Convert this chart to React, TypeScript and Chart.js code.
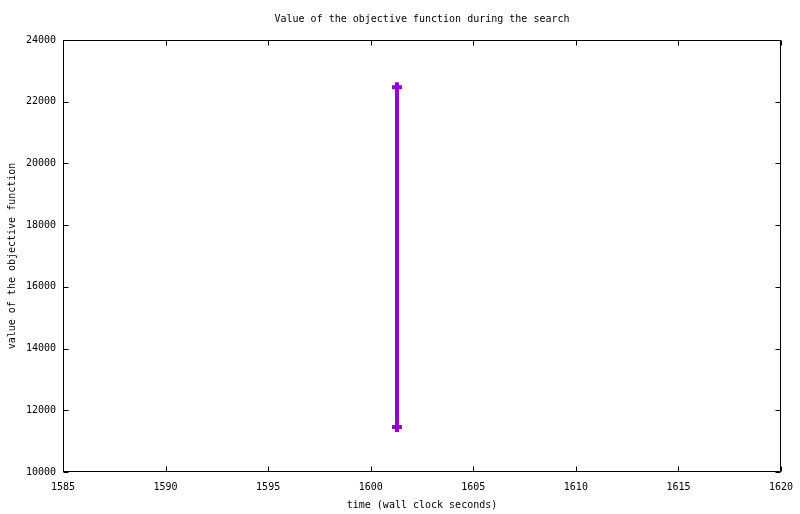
import React, { useEffect, useRef } from "react";
import { Chart, registerables } from "chart.js";

Chart.register(...registerables);

const times: number[] = [1601.28, 1601.28];
const values: number[] = [22470, 11460];
const xTicks: number[] = [1585, 1590, 1595, 1600, 1605, 1610, 1615, 1620];
const yTicks: number[] = [10000, 12000, 14000, 16000, 18000, 20000, 22000, 24000];

const titleText = "Value of the objective function during the search";
const xTitle = "time (wall clock seconds)";
const yTitle = "value of the objective function";

const FONT = "'DejaVu Sans Mono', 'Liberation Mono', monospace";

const framePlugin = {
  id: "gnuFrame",
  afterDatasetsDraw(chart: any) {
    const { ctx, chartArea } = chart;
    const { left, right, top, bottom } = chartArea;
    const xs = chart.scales.x;
    const ys = chart.scales.y;
    const L = 5;
    ctx.save();
    ctx.strokeStyle = "#000";
    ctx.lineWidth = 1;
    ctx.beginPath();
    const l = Math.round(left) + 0.5;
    const r = Math.round(right) - 0.5;
    const t = Math.round(top) + 0.5;
    const b = Math.round(bottom) - 0.5;
    ctx.rect(l, t, r - l, b - t);
    for (const v of xTicks) {
      const px = Math.round(xs.getPixelForValue(v)) + 0.5;
      ctx.moveTo(px, b);
      ctx.lineTo(px, b - L);
      ctx.moveTo(px, t);
      ctx.lineTo(px, t + L);
    }
    for (const v of yTicks) {
      const py = Math.round(ys.getPixelForValue(v)) + 0.5;
      ctx.moveTo(l, py);
      ctx.lineTo(l + L, py);
      ctx.moveTo(r, py);
      ctx.lineTo(r - L, py);
    }
    ctx.stroke();
    // chart title, centred over the plot area as gnuplot does
    ctx.fillStyle = "#000";
    ctx.font = "10px " + FONT;
    ctx.textAlign = "center";
    ctx.textBaseline = "middle";
    ctx.fillText(titleText, (left + right) / 2, 19);
    ctx.restore();
  },
};

export default function App() {
  const ref = useRef<HTMLCanvasElement | null>(null);

  useEffect(() => {
    if (!ref.current) return;
    const chart = new Chart(ref.current, {
      type: "scatter",
      data: {
        datasets: [
          {
            label: "objective",
            data: times.map((t, i) => ({ x: t, y: values[i] })),
            showLine: true,
            borderColor: "#9400d3",
            backgroundColor: "#9400d3",
            borderWidth: 4,
            pointStyle: "cross",
            pointRadius: 5,
            pointBorderWidth: 4,
            pointBorderColor: "#9400d3",
          },
        ],
      },
      options: {
        responsive: false,
        animation: false,
        layout: { padding: { left: 0, right: 19, top: 40, bottom: 0 } },
        plugins: {
          legend: { display: false },
          tooltip: { enabled: false },
          title: { display: false },
        },
        scales: {
          x: {
            type: "linear",
            min: 1585,
            max: 1620,
            afterFit: (s: any) => {
              s.height = 42;
              s.paddingLeft = 0;
              s.paddingRight = 0;
            },
            afterBuildTicks: (s: any) => {
              s.ticks = xTicks.map((v) => ({ value: v }));
            },
            grid: { display: false, drawTicks: false, tickLength: 0 },
            border: { display: false },
            ticks: {
              color: "#000",
              font: { family: FONT, size: 10 },
              padding: 9,
              maxRotation: 0,
              autoSkip: false,
              callback: (v: any) => String(v),
            },
            title: {
              display: true,
              text: xTitle,
              color: "#000",
              font: { family: FONT, size: 10 },
              padding: { top: 0, bottom: 3 },
            },
          },
          y: {
            type: "linear",
            min: 10000,
            max: 24000,
            afterFit: (s: any) => {
              s.width = 63;
              s.paddingTop = 0;
              s.paddingBottom = 0;
            },
            afterBuildTicks: (s: any) => {
              s.ticks = yTicks.map((v) => ({ value: v }));
            },
            grid: { display: false, drawTicks: false, tickLength: 0 },
            border: { display: false },
            ticks: {
              color: "#000",
              font: { family: FONT, size: 10 },
              padding: 7,
              autoSkip: false,
              callback: (v: any) => String(v),
            },
            title: {
              display: true,
              text: yTitle,
              color: "#000",
              font: { family: FONT, size: 10 },
              padding: { top: 6, bottom: 0 },
            },
          },
        },
      },
      plugins: [framePlugin],
    });
    return () => chart.destroy();
  }, []);

  return (
    <div style={{ position: "fixed", left: 0, top: 0, width: 800, height: 514, background: "#fff" }}>
      <canvas ref={ref} width={800} height={514} style={{ display: "block" }} />
    </div>
  );
}
